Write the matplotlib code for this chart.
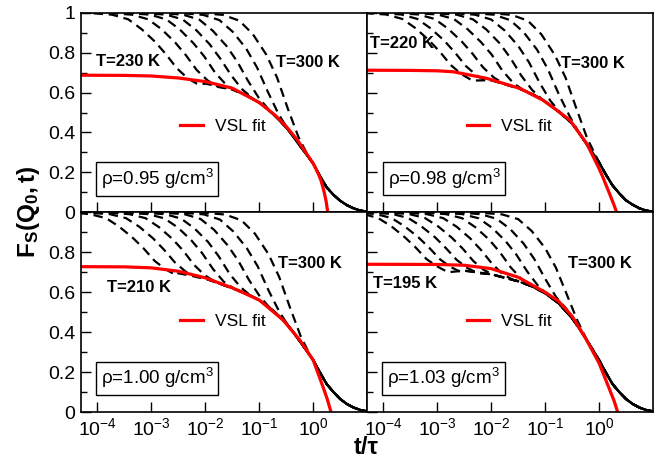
#!/usr/bin/env python
# coding:utf-8
"""F_s(Q0,t) vs t/tau, four densities, with VSL fit"""

import numpy as np
import matplotlib
matplotlib.use('Agg')
import matplotlib.pyplot as plt
from matplotlib.ticker import FixedLocator, NullLocator, FuncFormatter, LogLocator

plt.rcParams['font.family'] = ['Liberation Sans', 'DejaVu Sans']
plt.rcParams['mathtext.fontset'] = 'custom'
plt.rcParams['mathtext.rm'] = 'Liberation Sans'
plt.rcParams['mathtext.it'] = 'Liberation Sans:italic'
plt.rcParams['mathtext.bf'] = 'Liberation Sans:bold'

# ---- data (x in log10(t/tau)) ----
RHO = ['0.95', '0.98', '1.00', '1.03']
T_LOW = ['230', '220', '210', '195']
T_HIGH = '300'

# shared long-time tail grid
TAIL_X = [-4.35, -3.0, -2.5, -2.0, -1.5, -1.25, -1.0, -0.75, -0.5, -0.375, -0.25,
          -0.125, 0.0, 0.125, 0.25, 0.375, 0.5, 0.625, 0.75, 0.875, 1.0, 1.1]
TL_TAIL = [0.675, 0.67, 0.66, 0.645, 0.615, 0.59, 0.55, 0.495, 0.425, 0.382, 0.335,
           0.29, 0.245, 0.182, 0.125, 0.088, 0.058, 0.036, 0.02, 0.009, 0.003, 0.0]
TR_TAIL = [0.69, 0.685, 0.675, 0.662, 0.622, 0.595, 0.555, 0.505, 0.445, 0.40, 0.35,
           0.30, 0.25, 0.19, 0.135, 0.095, 0.06, 0.038, 0.02, 0.009, 0.003, 0.0]
BL_TAIL = [0.71, 0.705, 0.695, 0.668, 0.62, 0.595, 0.56, 0.51, 0.445, 0.402, 0.355,
           0.308, 0.26, 0.198, 0.14, 0.10, 0.065, 0.04, 0.022, 0.01, 0.003, 0.0]
BR_TAIL = [0.72, 0.715, 0.708, 0.69, 0.655, 0.63, 0.595, 0.545, 0.47, 0.422, 0.37,
           0.315, 0.26, 0.198, 0.14, 0.10, 0.065, 0.04, 0.022, 0.01, 0.003, 0.0]

# short-time part of each temperature (low T -> high T)
TL_DASH_X = [
    [-4.35, -4.13, -3.73, -3.43, -3.18, -2.93, -2.73, -2.53, -2.33, -2.13],
    [-4.35, -3.76, -3.36, -3.06, -2.81, -2.56, -2.36, -2.16, -1.96, -1.76],
    [-4.35, -3.42, -3.02, -2.72, -2.47, -2.22, -2.02, -1.82, -1.62, -1.42],
    [-4.35, -3.12, -2.72, -2.42, -2.17, -1.92, -1.72, -1.52, -1.32, -1.12],
    [-4.35, -2.81, -2.41, -2.11, -1.86, -1.61, -1.41, -1.21, -1.01, -0.81],
    [-4.35, -2.44, -2.04, -1.74, -1.49, -1.24, -1.04, -0.84, -0.64, -0.44],
    [-4.35, -2.07, -1.67, -1.37, -1.12, -0.87, -0.67, -0.47, -0.27, -0.07],
]
TL_DASH_Y = [
    [1.0, 0.998, 0.99, 0.967, 0.917, 0.854, 0.792, 0.722, 0.672, 0.64],
    [1.0, 0.998, 0.99, 0.967, 0.917, 0.851, 0.787, 0.713, 0.661, 0.628],
    [1.0, 0.998, 0.99, 0.966, 0.915, 0.847, 0.781, 0.70, 0.641, 0.605],
    [1.0, 0.998, 0.99, 0.966, 0.913, 0.842, 0.769, 0.686, 0.617, 0.57],
    [1.0, 0.998, 0.99, 0.965, 0.909, 0.834, 0.756, 0.659, 0.574, 0.51],
    [1.0, 0.998, 0.989, 0.963, 0.904, 0.819, 0.725, 0.603, 0.491, 0.404],
    [1.0, 0.998, 0.989, 0.96, 0.893, 0.79, 0.675, 0.519, 0.375, 0.27],
]
TR_DASH_X = [
    [-4.35, -3.95, -3.65, -3.40, -3.15, -2.95, -2.75, -2.55, -2.35],
    [-4.35, -4.07, -3.67, -3.37, -3.12, -2.87, -2.67, -2.47, -2.27, -2.07],
    [-4.35, -3.75, -3.35, -3.05, -2.80, -2.55, -2.35, -2.15, -1.95, -1.75],
    [-4.35, -3.39, -2.99, -2.69, -2.44, -2.19, -1.99, -1.79, -1.59, -1.39],
    [-4.35, -3.04, -2.64, -2.34, -2.09, -1.84, -1.64, -1.44, -1.24, -1.04],
    [-4.35, -2.70, -2.30, -2.00, -1.75, -1.50, -1.30, -1.10, -0.90, -0.70],
    [-4.35, -2.35, -1.95, -1.65, -1.40, -1.15, -0.95, -0.75, -0.55, -0.35],
    [-4.35, -2.02, -1.62, -1.32, -1.07, -0.82, -0.62, -0.42, -0.22, -0.02],
]
TR_DASH_Y = [
    [0.998, 0.991, 0.969, 0.922, 0.861, 0.804, 0.738, 0.692, 0.66],
    [1.0, 0.998, 0.991, 0.969, 0.921, 0.86, 0.80, 0.733, 0.686, 0.655],
    [1.0, 0.998, 0.991, 0.969, 0.92, 0.857, 0.796, 0.726, 0.675, 0.642],
    [1.0, 0.998, 0.991, 0.968, 0.918, 0.853, 0.79, 0.709, 0.648, 0.61],
    [1.0, 0.998, 0.99, 0.967, 0.916, 0.846, 0.772, 0.684, 0.613, 0.562],
    [1.0, 0.998, 0.99, 0.966, 0.911, 0.834, 0.752, 0.648, 0.558, 0.493],
    [1.0, 0.998, 0.99, 0.963, 0.903, 0.815, 0.718, 0.594, 0.484, 0.388],
    [1.0, 0.998, 0.989, 0.96, 0.892, 0.788, 0.674, 0.52, 0.371, 0.262],
]
BL_DASH_X = [
    [-4.35, -4.14, -3.84, -3.59, -3.34, -3.14, -2.94, -2.74, -2.54],
    [-4.35, -4.17, -3.77, -3.47, -3.22, -2.97, -2.77, -2.57, -2.37, -2.17],
    [-4.35, -3.81, -3.41, -3.11, -2.86, -2.61, -2.41, -2.21, -2.01, -1.81],
    [-4.35, -3.46, -3.06, -2.76, -2.51, -2.26, -2.06, -1.86, -1.66, -1.46],
    [-4.35, -3.15, -2.75, -2.45, -2.20, -1.95, -1.75, -1.55, -1.35, -1.15],
    [-4.35, -2.79, -2.39, -2.09, -1.84, -1.59, -1.39, -1.19, -0.99, -0.79],
    [-4.35, -2.43, -2.03, -1.73, -1.48, -1.23, -1.03, -0.83, -0.63, -0.43],
    [-4.35, -2.03, -1.63, -1.33, -1.08, -0.83, -0.63, -0.43, -0.23, -0.03],
]
BL_DASH_Y = [
    [0.996, 0.991, 0.971, 0.927, 0.871, 0.818, 0.757, 0.715, 0.685],
    [1.0, 0.998, 0.991, 0.971, 0.927, 0.87, 0.814, 0.751, 0.704, 0.677],
    [1.0, 0.998, 0.991, 0.971, 0.926, 0.867, 0.808, 0.737, 0.685, 0.65],
    [1.0, 0.998, 0.991, 0.97, 0.924, 0.86, 0.796, 0.717, 0.653, 0.616],
    [1.0, 0.998, 0.991, 0.969, 0.919, 0.852, 0.779, 0.692, 0.626, 0.58],
    [1.0, 0.998, 0.991, 0.967, 0.913, 0.836, 0.758, 0.661, 0.579, 0.517],
    [1.0, 0.998, 0.99, 0.964, 0.904, 0.82, 0.73, 0.61, 0.503, 0.418],
    [1.0, 0.998, 0.989, 0.96, 0.893, 0.791, 0.676, 0.523, 0.378, 0.27],
]
BR_DASH_X = [
    [-4.35, -4.10, -3.85, -3.60, -3.40, -3.20, -3.00, -2.80],
    [-4.35, -4.15, -3.85, -3.60, -3.35, -3.15, -2.95, -2.75, -2.55],
    [-4.35, -4.24, -3.84, -3.54, -3.29, -3.04, -2.84, -2.64, -2.44, -2.24],
    [-4.35, -3.93, -3.53, -3.23, -2.98, -2.73, -2.53, -2.33, -2.13, -1.93],
    [-4.35, -3.59, -3.19, -2.89, -2.64, -2.39, -2.19, -1.99, -1.79, -1.59],
    [-4.35, -3.24, -2.84, -2.54, -2.29, -2.04, -1.84, -1.64, -1.44, -1.24],
    [-4.35, -2.93, -2.53, -2.23, -1.98, -1.73, -1.53, -1.33, -1.13, -0.93],
    [-4.35, -2.60, -2.20, -1.90, -1.65, -1.40, -1.20, -1.00, -0.80, -0.60],
    [-4.35, -2.20, -1.80, -1.50, -1.25, -1.00, -0.80, -0.60, -0.40, -0.20],
]
BR_DASH_Y = [
    [0.99, 0.972, 0.93, 0.875, 0.824, 0.766, 0.729, 0.70],
    [0.996, 0.992, 0.972, 0.929, 0.875, 0.823, 0.765, 0.726, 0.70],
    [1.0, 0.999, 0.992, 0.972, 0.929, 0.875, 0.821, 0.762, 0.721, 0.695],
    [1.0, 0.999, 0.992, 0.972, 0.929, 0.873, 0.819, 0.756, 0.71, 0.685],
    [1.0, 0.999, 0.991, 0.971, 0.928, 0.87, 0.812, 0.745, 0.691, 0.661],
    [1.0, 0.999, 0.991, 0.971, 0.925, 0.864, 0.801, 0.725, 0.667, 0.629],
    [1.0, 0.999, 0.991, 0.97, 0.922, 0.855, 0.787, 0.703, 0.632, 0.581],
    [1.0, 0.999, 0.991, 0.968, 0.917, 0.844, 0.766, 0.668, 0.577, 0.515],
    [1.0, 0.998, 0.99, 0.966, 0.907, 0.821, 0.723, 0.59, 0.457, 0.346],
]

# VSL fits
TL_FIT_X = [-4.35, -3.5, -3.0, -2.5, -2.0, -1.5, -1.0, -0.7, -0.5, -0.3, -0.1, 0.0,
            0.1, 0.15, 0.2, 0.24, 0.27, 0.3]
TL_FIT_Y = [0.687, 0.686, 0.683, 0.673, 0.655, 0.622, 0.55, 0.485, 0.43, 0.365, 0.285,
            0.245, 0.19, 0.155, 0.105, 0.055, 0.0, -0.05]
TR_FIT_X = [-4.35, -3.5, -3.0, -2.7, -2.08, -1.47, -1.04, -0.8, -0.54, -0.23, 0.0,
            0.07, 0.2, 0.28, 0.32, 0.36]
TR_FIT_Y = [0.712, 0.711, 0.709, 0.704, 0.671, 0.621, 0.562, 0.515, 0.462, 0.345,
            0.22, 0.177, 0.09, 0.035, 0.005, -0.03]
BL_FIT_X = [-4.35, -3.5, -3.0, -2.5, -2.0, -1.5, -1.0, -0.56, -0.25, 0.0, 0.18, 0.26,
            0.33, 0.36]
BL_FIT_Y = [0.728, 0.727, 0.722, 0.705, 0.672, 0.622, 0.561, 0.461, 0.361, 0.26,
            0.127, 0.065, 0.0, -0.03]
BR_FIT_X = [-4.35, -3.0, -2.5, -2.0, -1.5, -1.0, -0.75, -0.5, -0.25, 0.0, 0.2, 0.28,
            0.345, 0.37]
BR_FIT_Y = [0.74, 0.739, 0.735, 0.718, 0.675, 0.60, 0.555, 0.48, 0.37, 0.245, 0.11,
            0.055, 0.0, -0.03]

# label placement (log10 x, y) for low-T and high-T annotations
LOW_POS = [(-4.02, 0.754), (-4.25, 0.846), (-3.83, 0.625), (-4.185, 0.645)]
HIGH_POS = [(-0.686, 0.753), (-0.70, 0.746), (-0.656, 0.745), (-0.574, 0.745)]
LEG_POS = [(0.347, 0.428), (0.349, 0.428), (0.347, 0.453), (0.349, 0.453)]
BOX_POS = [(0.266, 0.167), (0.270, 0.169), (0.266, 0.169), (0.268, 0.169)]


def with_tail(xs, ys, tail_y):
  """append the shared long-time tail after the short-time part"""
  last = xs[-1]
  tx = [x for x in TAIL_X if x > last + 0.02]
  ty = [y for x, y in zip(TAIL_X, tail_y) if x > last + 0.02]
  return np.power(10.0, xs + tx), np.array(ys + ty)


def main():
  fig, axes = plt.subplots(2, 2, figsize=(6.68, 4.74), dpi=100)
  fig.subplots_adjust(left=0.1213, right=0.9771, top=0.9732, bottom=0.1308,
                      wspace=0, hspace=0)
  panels = [
      (TL_DASH_X, TL_DASH_Y, TL_TAIL, TL_FIT_X, TL_FIT_Y),
      (TR_DASH_X, TR_DASH_Y, TR_TAIL, TR_FIT_X, TR_FIT_Y),
      (BL_DASH_X, BL_DASH_Y, BL_TAIL, BL_FIT_X, BL_FIT_Y),
      (BR_DASH_X, BR_DASH_Y, BR_TAIL, BR_FIT_X, BR_FIT_Y),
  ]
  for i, ax in enumerate(axes.flat):
    dx, dy, tail, fx, fy = panels[i]
    for xs, ys in zip(dx, dy):
      x, y = with_tail(xs, ys, tail)
      ax.plot(x, y, color='black', lw=1.6, linestyle=(0, (4.2, 2.6)))
    ax.plot(np.power(10.0, fx), fy, color='#ff0000', lw=2.3, label='VSL fit')

    ax.set_xscale('log')
    ax.set_xlim(10 ** -4.305, 10 ** 0.995)
    ax.set_ylim(0, 1)
    ax.xaxis.set_major_locator(LogLocator(base=10, numticks=10))
    ax.xaxis.set_minor_locator(NullLocator())
    ax.yaxis.set_major_locator(FixedLocator([0, 0.2, 0.4, 0.6, 0.8, 1.0]))
    ax.yaxis.set_minor_locator(FixedLocator([0.1, 0.3, 0.5, 0.7, 0.9]))
    row, col = divmod(i, 2)
    if row == 1:
      ax.yaxis.set_major_formatter(
          FuncFormatter(lambda v, p: '' if v > 0.99 else '%g' % v))
    else:
      ax.yaxis.set_major_formatter(FuncFormatter(lambda v, p: '%g' % v))
    ax.tick_params(which='both', direction='in', top=False, right=False,
                   labelsize=14, width=1.0)
    ax.tick_params(which='major', length=7.5, pad=4)
    ax.tick_params(which='minor', length=4)
    if row == 0:
      ax.tick_params(labelbottom=False)
    if col == 1:
      ax.tick_params(labelleft=False)
    for sp in ax.spines.values():
      sp.set_linewidth(1.2)

    lx, ly = LOW_POS[i]
    ax.text(10 ** lx, ly, 'T=%s K' % T_LOW[i], fontsize=12, fontweight='bold',
            ha='left', va='center')
    hx, hy = HIGH_POS[i]
    ax.text(10 ** hx, hy, 'T=%s K' % T_HIGH, fontsize=12, fontweight='bold',
            ha='left', va='center')
    ax.legend(loc='center left', bbox_to_anchor=LEG_POS[i], frameon=False,
              fontsize=12.5, handlelength=1.3, handletextpad=0.7,
              borderpad=0, borderaxespad=0)
    bx, by = BOX_POS[i]
    ax.text(bx, by, 'ρ=%s g/cm$^3$' % RHO[i], transform=ax.transAxes,
            fontsize=13.5, ha='center', va='center',
            bbox=dict(boxstyle='square,pad=0.25', fc='white', ec='black', lw=1.0))

  fig.text(0.043, 0.553, r'$\mathbf{F_S(Q_0,t)}$', rotation=90, fontsize=17.5,
           ha='center', va='center')
  fig.text(0.549, 0.055, 't/τ', fontsize=17, fontweight='bold',
           ha='center', va='center')
  fig.savefig('out.png', dpi=100, facecolor='white')


if __name__ == '__main__':
  main()
